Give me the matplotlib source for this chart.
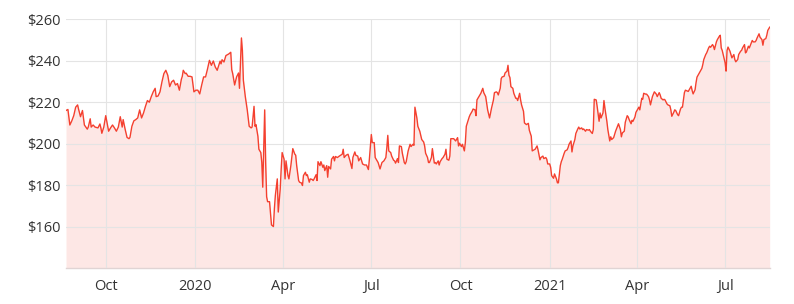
import numpy as np
import pandas as pd
import matplotlib
matplotlib.use("Agg")
import matplotlib.pyplot as plt
import matplotlib.dates as mdates
from matplotlib.ticker import FuncFormatter, MultipleLocator

# ------------------------------------------------------------------
#   price history (days counted from start date)
# ------------------------------------------------------------------

start = pd.Timestamp("2019-08-21")

days = [
    0, 2, 4, 6, 8, 10, 12, 13, 15, 17, 19, 22, 23, 25, 26, 28, 30, 33, 35, 36,
    37, 39, 41, 44, 46, 48, 50, 52, 54, 56, 58, 59, 61, 63, 65, 66, 68, 70, 72, 74,
    76, 78, 80, 82, 84, 86, 88, 90, 92, 93, 95, 97, 99, 101, 103, 105, 107, 109, 111, 113,
    115, 117, 119, 120, 121, 123, 124, 126, 128, 130, 132, 134, 136, 138, 140, 142, 144, 146, 148, 150,
    152, 154,
    156, 159, 160, 161, 163, 164, 165, 167, 168, 170, 171, 172, 174, 176, 178, 179, 181, 182, 183, 185,
    187, 189, 191, 192, 194, 195, 196, 198, 199, 201, 202, 203, 205, 206, 207, 208, 210, 212, 214, 215,
    216, 218, 219, 221, 222, 223, 225, 226, 227, 229, 230, 232, 234, 236,
    237, 238, 240, 241, 243, 244, 245, 247, 248, 249, 251, 252, 254, 255, 256, 258, 259, 260, 262, 263,
    265, 266, 267, 269, 270, 271, 273, 274, 276, 277, 278, 280, 282, 285, 286, 287, 289, 291, 292, 293,
    295, 296, 298, 299, 301, 302, 304, 306, 308, 310, 312, 313, 315, 316,
    318, 319, 320, 322, 323, 324, 326, 328, 330, 331, 332, 333, 335, 336, 338, 339, 340, 342, 343, 344,
    346, 347, 349, 350, 351, 353, 355, 356, 358, 359, 360, 362, 363, 365, 367, 369, 370, 371, 373, 374,
    375, 377, 378, 380, 381, 382, 384, 385, 386, 388, 389, 391, 392, 393, 395, 396, 397,
    398, 400, 402, 404, 405, 406, 408, 409, 411, 412, 413, 415, 416, 417, 419, 420, 422, 423, 424, 426,
    427, 428, 430, 431, 433, 434, 435, 437, 438, 439, 441, 442, 444, 445, 446, 448, 449, 450, 452, 453,
    455, 456, 457, 458, 459, 461, 462, 464, 465, 466, 468, 469, 470, 472, 473, 475, 477, 478,
    480, 481, 483, 484, 486, 487, 489, 490, 492, 493, 495, 496, 497, 499, 500, 501, 503, 504, 506, 507,
    508, 510, 511, 512, 514, 515, 517, 518, 519, 521, 522, 523, 525, 526, 528, 529, 530, 532, 533, 534,
    536, 537, 539, 540, 541, 543, 544, 545, 547, 548, 550, 551, 552, 554, 555, 556, 558,
    559, 561, 562, 563, 565, 566, 567, 569, 570, 572, 573, 574, 576, 577, 579, 580, 581, 583, 584, 585,
    587, 588, 590, 591, 592, 594, 595, 596, 598, 599, 601, 602, 603, 605, 606, 607, 609, 610, 612, 613,
    614, 616, 617, 618, 620, 621, 623, 624, 625, 627, 628, 629, 631, 632, 634, 635, 636, 638, 639,
    642, 643, 645, 646, 647, 649, 650, 651, 653, 654, 656, 657, 658, 660, 661, 663, 664, 665, 667, 668,
    669, 671, 672, 674, 675, 676, 677, 678, 680, 681, 682, 683, 685, 686, 687, 689, 690, 691, 693, 694,
    696, 697, 698, 700, 701, 702, 704, 705, 707, 708, 709, 711, 712, 713, 715, 716, 718, 719, 720, 722,
    723, 724, 726,
]

prices = [
    216, 216.5, 209, 211, 213.5, 217.6, 218.7, 216.6, 213, 216, 209, 207, 208, 212, 208, 209, 208, 207.6, 209.5, 207.6,
    205, 208, 213.5, 206, 207.6, 209, 207.6, 206, 208, 213, 208, 211.6, 207, 203, 202.4, 203, 208.4, 211, 211.6, 212.4,
    216.3, 212.4, 214.8, 218, 220.8, 220, 222.7, 225, 226.7, 222.7, 223, 225, 229.8, 233.8, 235.4, 233, 227.5, 229.8, 230.6, 228.3,
    229, 225.8, 231, 232.5, 235.4, 233.8, 234, 232.5, 232.5, 232.2, 225, 225.8, 225.8, 224, 228.3, 232.2, 232.2, 236, 240.2, 237.8,
    239.9, 237,
    235.4, 239.8, 238.5, 240.5, 239.4, 241, 242.5, 243, 243.3, 244.1, 235.7, 233.8, 228.3, 232.2, 234.1, 226.7, 251, 245, 230.6, 222.7,
    216.3, 208.4, 207.6, 208, 218, 208.4, 209.2, 203.6, 197.3, 195.7, 191, 179, 216.3, 191, 174.4, 172, 172, 160.8, 160, 168.6,
    175, 183, 167, 178, 187.6, 195.7, 192.5, 183, 191.7, 184.6, 183, 189.4, 197.6, 195,
    194.4, 189.4, 182.2, 181.4, 181, 179.8, 184.6, 186.2, 184.6, 185, 181.4, 183, 182.7, 182.2, 183, 185, 182.2, 191.3, 189.4, 191.3,
    188.6, 189.7, 187, 189.4, 183.8, 189, 187.8, 192.5, 193.8, 191.7, 193.8, 193.3, 194, 194.9, 197.3, 193.3, 194.4, 194.9, 193.3, 191.7,
    188, 193.3, 196, 194.4, 194, 191.7, 193.3, 190.2, 189.7, 189.7, 187.5, 192.5, 204.4, 200.5,
    200.5, 193.3, 192.5, 190.9, 189.4, 187.8, 190.9, 191.7, 193.3, 198, 204, 196.5, 195.7, 194, 192, 191.7, 190.6, 192.8, 190.9, 198.9,
    198.6, 195.4, 190.9, 190.2, 191.3, 196.5, 199.7, 198.6, 199.7, 199.2, 217.6, 212.4, 208.4, 206, 202, 200.8, 198.9, 195.4, 193.3, 190.9,
    190.9, 193.3, 197.6, 190.6, 190.9, 190.2, 191.7, 189.7, 191.3, 192.8, 193.3, 194.9, 197.3, 192.5, 192, 194, 202.4,
    202.4, 202.4, 201.3, 202.9, 198.9, 200.2, 198.6, 199.7, 196.5, 200.5, 208.4, 211.3, 212.9, 214, 215.6, 216.7, 216.3, 213.5, 221.1, 222.7,
    223.5, 224.3, 226.7, 224.6, 222.7, 219.5, 216.3, 212.4, 214.8, 217.1, 221.1, 224.6, 225, 224.6, 223.5, 226.7, 231.4, 232.2, 232.5, 234.1,
    235, 237.8, 233, 231.9, 227.5, 226.7, 224.3, 221.9, 221.9, 220.8, 224.3, 221.1, 218.7, 215.6, 210, 209.2, 209.8, 206.5,
    203.6, 196.5, 197, 197.3, 198.9, 197, 192.2, 193.3, 194, 192.8, 193.3, 192.5, 190.2, 190.2, 188.6, 184.6, 183.3, 185.4, 183, 181.1,
    181.1, 189.4, 191.3, 192.5, 195.4, 196.5, 197, 198.1, 199.7, 201.3, 196, 198.9, 202, 204.9, 207.1, 208, 207.1, 207.6, 206.8, 207.1,
    206, 206.8, 206.5, 206.8, 206, 204.9, 206.8, 221.4, 221.1, 217.9, 210.8, 214.8, 212.4, 214.8, 220.8, 217.1, 210.8,
    206.8, 201.3, 203.3, 202, 202.9, 204.4, 206, 208.4, 209.6, 206.8, 203.3, 205.2, 206, 210.3, 213.5, 212.9, 211.6, 209.6, 211.3, 210.8,
    212.9, 215.1, 216.7, 217.6, 216.3, 221.9, 221.4, 224.3, 223.9, 223.9, 222.7, 221.1, 218.7, 222.7, 223.9, 225, 223.9, 222.7, 224.6, 223.5,
    221.9, 221.1, 221.4, 221.1, 219.2, 218.7, 218.3, 216.3, 213.2, 215.1, 216.3, 216, 214, 213.5, 216.7, 217.6, 217.6, 224.6, 225.8,
    225.2, 226, 227.7, 225.6, 224, 226, 229.4, 232.1, 233.8, 234.7, 236.3, 238.2, 240.6, 243, 243.8, 246.2, 247, 246.5, 247.8, 247,
    245.4, 249.1, 250.2, 251.8, 252.3, 246.2, 245, 243, 239, 235, 245, 246.6, 244.6, 243, 241.4, 243, 240.6, 239.5, 240.6, 243,
    244.6, 245, 246.2, 247.8, 243.8, 244.3, 247, 246.2, 248.6, 249.8, 249.1, 249.1, 249.8, 251, 253, 251.4, 250.2, 247.5, 250.2, 250.7,
    252.3, 254.6, 256.2,
]

y_ticks = [160, 180, 200, 220, 240, 260]

LINE = "#f4402f"
TEXT = "#333333"

plt.rcParams["font.family"] = ["Open Sans", "DejaVu Sans"]

dates = start + pd.to_timedelta(days, unit="D")

fig = plt.figure(figsize=(7.94, 3.04), dpi=100)
ax = fig.add_axes([0.0831, 0.1184, 0.8863, 0.8181])

ax.fill_between(dates, prices, 140, color=LINE, alpha=0.12, linewidth=0, zorder=1)
ax.plot(dates, prices, color=LINE, linewidth=1.0, zorder=3)

ax.set_ylim(140, 260)
ax.set_xlim(dates[0], dates[-1])
ax.set_yticks(y_ticks)
ax.yaxis.set_major_formatter(FuncFormatter(lambda v, p: "$%d" % v))

ax.xaxis.set_major_locator(mdates.MonthLocator(bymonth=[1, 4, 7, 10]))
def month_label(v, p):
    d = mdates.num2date(v)
    return str(d.year) if d.month == 1 else d.strftime("%b")
ax.xaxis.set_major_formatter(FuncFormatter(month_label))

ax.grid(True, color="#e4e4e4", linewidth=0.8, zorder=2)
ax.set_axisbelow(False)
for s in ["top", "right", "left"]:
    ax.spines[s].set_visible(False)
ax.spines["bottom"].set_color("#e0d4d4")
ax.spines["bottom"].set_linewidth(1.0)

ax.tick_params(axis="both", length=0, labelsize=10.5, colors=TEXT)
ax.tick_params(axis="y", pad=4)
ax.tick_params(axis="x", pad=8)

fig.savefig("out.png", dpi=100)
